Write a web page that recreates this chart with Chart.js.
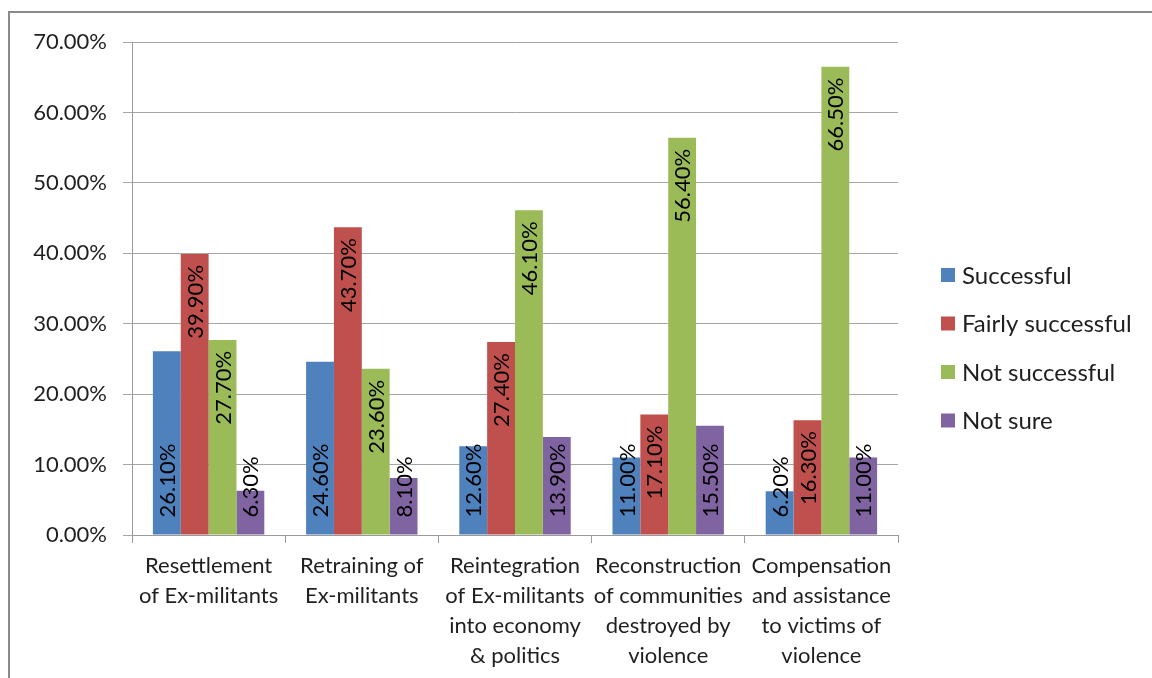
<!DOCTYPE html>
<html>
<head>
<meta charset="utf-8">
<script src="https://cdn.jsdelivr.net/npm/chart.js@4"></script>
<style>
  html, body { margin: 0; padding: 0; background: #fff; }
  #wrap { position: relative; width: 1152px; height: 678px; }
  #frame { position: absolute; left: 8px; top: 11px; width: 1200px; height: 700px;
           border-left: 2px solid #8a8a8a; border-top: 2px solid #8a8a8a; box-sizing: border-box; }
  canvas { position: absolute; left: 0; top: 0; }
</style>
</head>
<body>
<div id="wrap">
  <div id="frame"></div>
  <canvas id="c" width="1152" height="678"></canvas>
</div>
<script>
// Survey: perceived success of post-amnesty programmes
const categories = [
  ['Resettlement', 'of Ex-militants'],
  ['Retraining of', 'Ex-militants'],
  ['Reintegration', 'of Ex-militants', 'into economy', '& politics'],
  ['Reconstruction', 'of communities', 'destroyed by', 'violence'],
  ['Compensation', 'and assistance', 'to victims of', 'violence']
];
const successful       = [26.1, 24.6, 12.6, 11.0, 6.2];
const fairlySuccessful = [39.9, 43.7, 27.4, 17.1, 16.3];
const notSuccessful    = [27.7, 23.6, 46.1, 56.4, 66.5];
const notSure          = [6.3, 8.1, 13.9, 15.5, 11.0];
const yTicks = [0, 10, 20, 30, 40, 50, 60, 70];

const FONT = 'Lato, "Open Sans", sans-serif';
const TEXT = '#1f1f1f';

// Value labels, rotated; first and last series sit at the bar base, the others at the bar end
const valueLabels = {
  id: 'valueLabels',
  afterDatasetsDraw(chart) {
    const ctx = chart.ctx;
    ctx.save();
    ctx.font = '22px ' + FONT;
    ctx.fillStyle = '#000';
    ctx.textBaseline = 'middle';
    chart.data.datasets.forEach((ds, di) => {
      const meta = chart.getDatasetMeta(di);
      meta.data.forEach((bar, i) => {
        const txt = ds.data[i].toFixed(2) + '%';
        ctx.save();
        if (ds.labelAt === 'base') {
          ctx.translate(bar.x + 1, bar.base - 17);
          ctx.rotate(-Math.PI / 2);
          ctx.textAlign = 'left';
        } else {
          ctx.translate(bar.x + 1, bar.y + 11);
          ctx.rotate(-Math.PI / 2);
          ctx.textAlign = 'right';
        }
        ctx.fillText(txt, 0, 0);
        ctx.restore();
      });
    });
    ctx.restore();
  }
};

// Legend to the right of the plot
const sideLegend = {
  id: 'sideLegend',
  afterDraw(chart) {
    const ctx = chart.ctx;
    ctx.save();
    ctx.font = '24px ' + FONT;
    ctx.textBaseline = 'middle';
    ctx.textAlign = 'left';
    chart.data.datasets.forEach((ds, i) => {
      const cy = 275 + i * 48.5;
      ctx.fillStyle = ds.backgroundColor;
      ctx.fillRect(941, cy - 7, 14, 14);
      ctx.fillStyle = TEXT;
      ctx.fillText(ds.label, 962, cy + 1);
    });
    ctx.restore();
  }
};

new Chart(document.getElementById('c'), {
  type: 'bar',
  data: {
    labels: categories,
    datasets: [
      { label: 'Successful', data: successful, backgroundColor: '#4F81BD', labelAt: 'base' },
      { label: 'Fairly successful', data: fairlySuccessful, backgroundColor: '#C0504D', labelAt: 'end' },
      { label: 'Not successful', data: notSuccessful, backgroundColor: '#9BBB59', labelAt: 'end' },
      { label: 'Not sure', data: notSure, backgroundColor: '#8064A2', labelAt: 'base' }
    ]
  },
  options: {
    responsive: false,
    animation: false,
    devicePixelRatio: 1,
    layout: { padding: { left: 9, top: 42, right: 254, bottom: 0 } },
    datasets: { bar: { categoryPercentage: 4 / 5.5, barPercentage: 1 } },
    plugins: { legend: { display: false }, tooltip: { enabled: false } },
    scales: {
      x: {
        offset: true,
        grid: { offset: true, drawOnChartArea: false, drawTicks: true, tickLength: 8, color: '#9a9a9a' },
        border: { color: '#9a9a9a', width: 1 },
        ticks: { color: TEXT, font: { family: FONT, size: 22, lineHeight: 30 / 22 }, padding: 8, maxRotation: 0, autoSkip: false },
        afterFit(s) { s.height = 143; }
      },
      y: {
        min: 0, max: 70,
        afterBuildTicks(s) { s.ticks = yTicks.map(v => ({ value: v })); },
        grid: { color: '#a6a6a6', tickLength: 9, lineWidth: 1 },
        border: { color: '#9a9a9a', width: 1 },
        ticks: { color: TEXT, font: { family: FONT, size: 22 }, padding: 16,
                 callback: v => v.toFixed(2) + '%' },
        afterFit(s) { s.width = 123; }
      }
    }
  },
  plugins: [valueLabels, sideLegend]
});
</script>
</body>
</html>
